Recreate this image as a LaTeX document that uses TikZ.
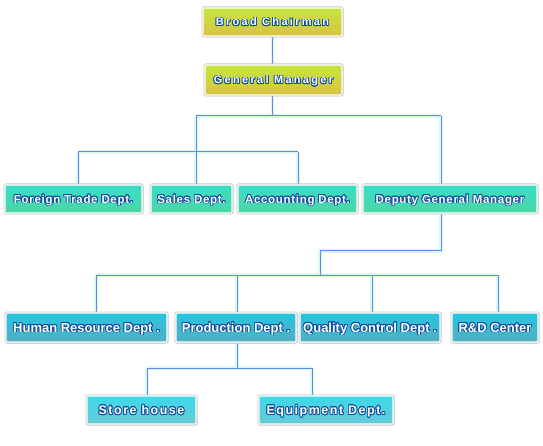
\documentclass[tikz,border=0pt]{standalone}
\usepackage{fontspec}
\setmainfont{Liberation Sans}
\newfontfamily\fA[LetterSpace=21]{Liberation Sans}
\newfontfamily\fB[LetterSpace=6]{Liberation Sans}
\newfontfamily\fC[LetterSpace=0]{Liberation Sans}
\newfontfamily\fD[LetterSpace=12]{Liberation Sans}
\usepackage[copies]{contour}
\contourlength{0.8pt}
\contournumber{16}
\usetikzlibrary{shadows}
\definecolor{outl}{HTML}{0E4E9C}
\definecolor{lineblue}{HTML}{5A8EEA}
\definecolor{glowc}{HTML}{DDF6F2}
\definecolor{yA}{HTML}{C6E63E}
\definecolor{yB}{HTML}{D8C240}
\definecolor{tA}{HTML}{38DEC6}
\definecolor{tB}{HTML}{4CD6A6}
\definecolor{cA}{HTML}{26C6E2}
\definecolor{cB}{HTML}{52AEC2}
\definecolor{lA}{HTML}{3CDAEA}
\definecolor{lB}{HTML}{66C8D6}
\pgfdeclarelayer{bg}
\pgfsetlayers{bg,main}
\tikzset{
  box/.style={rectangle, draw=white, line width=1.3pt, inner sep=0pt,
    text=white, rounded corners=1pt, text depth=0pt,
    drop shadow={shadow xshift=1.2pt, shadow yshift=-1.2pt, opacity=0.25, fill=black},
    preaction={draw=black!22, line width=3pt}},
  lvA/.style={box, top color=yA, bottom color=yB, text height=8pt, font=\fA\bfseries\fontsize{11}{13}\selectfont},
  lvB/.style={box, top color=tA, bottom color=tB, text height=8.3pt, font=\fB\bfseries\fontsize{11.5}{13}\selectfont},
  lvC/.style={box, top color=cA, bottom color=cB, text height=9.2pt, font=\fC\bfseries\fontsize{13}{15}\selectfont},
  lvD/.style={box, top color=lA, bottom color=lB, text height=9pt, font=\fD\bfseries\fontsize{12.5}{14}\selectfont},
  conn/.style={draw=lineblue, line width=1pt, preaction={draw=glowc, line width=3.2pt}},
}
\newcommand{\ot}[1]{\contour{outl}{#1}}
\begin{document}
\begin{tikzpicture}[x=1pt,y=-1pt]
\useasboundingbox (0,0) rectangle (543,446);
\node[lvA, minimum width=139pt, minimum height=28pt] (bc) at (272.5,22) {\ot{Broad Chairman}};
\node[lvA, minimum width=137pt, minimum height=30pt] (gm) at (273.5,80) {\ot{General Manager}};
\node[lvB, minimum width=137pt, minimum height=28pt] (ft) at (73.5,199) {\ot{Foreign Trade Dept.}};
\node[lvB, minimum width=81pt, minimum height=28pt] (sales) at (191.5,199) {\ot{Sales Dept.}};
\node[lvB, minimum width=119pt, minimum height=28pt] (acc) at (297.5,199) {\ot{Accounting Dept.}};
\node[lvB, minimum width=174pt, minimum height=28pt] (dgm) at (450,199) {\ot{Deputy General Manager}};
\node[lvC, minimum width=161pt, minimum height=29pt] (hr) at (86.5,327.5) {\ot{Human Resource Dept .}};
\node[lvC, minimum width=120pt, minimum height=29pt] (prod) at (236,327.5) {\ot{Production Dept .}};
\node[lvC, minimum width=140pt, minimum height=29pt] (qc) at (370,327.5) {\ot{Quality Control Dept .}};
\node[lvC, minimum width=86pt, minimum height=29pt] (rd) at (495,327.5) {\ot{R\&D Center}};
\node[lvD, minimum width=109pt, minimum height=28pt] (store) at (141.5,410) {\ot{Store house}};
\node[lvD, minimum width=134pt, minimum height=28pt] (equip) at (326,410) {\ot{Equipment Dept.}};
\coordinate (h1L) at (196,116);
\coordinate (h1R) at (441,116);
\coordinate (h2L) at (78,152);
\coordinate (h2R) at (298,152);
\coordinate (d1) at (441,251);
\coordinate (d2) at (320,251);
\coordinate (h3L) at (96,275);
\coordinate (h3R) at (498,275);
\coordinate (h3a) at (237,275);
\coordinate (h3b) at (372,275);
\coordinate (h4L) at (147,368);
\coordinate (h4R) at (312,368);
\begin{pgfonlayer}{bg}
\fill[white] (0,0) rectangle (543,446);
\draw[conn]
  (bc.south) -- (bc.south |- gm.north)
  (gm.south -| bc.south) -- (bc.south |- h1L)
  (h1L) -- (h1R)
  (h1R) -- (h1R |- dgm.north)
  (h1L) -- (h1L |- sales.north)
  (h2L) -- (h2R)
  (h2L) -- (h2L |- ft.north)
  (h2R) -- (h2R |- acc.north)
  (dgm.south -| d1) -- (d1) -- (d2) -- (d2 |- h3L)
  (h3L) -- (h3R)
  (h3L) -- (h3L |- hr.north)
  (h3a) -- (h3a |- prod.north)
  (h3b) -- (h3b |- qc.north)
  (h3R) -- (h3R |- rd.north)
  (prod.south -| h3a) -- (h3a |- h4L)
  (h4L) -- (h4R)
  (h4L) -- (h4L |- store.north)
  (h4R) -- (h4R |- equip.north);
\end{pgfonlayer}
\end{tikzpicture}
\end{document}
